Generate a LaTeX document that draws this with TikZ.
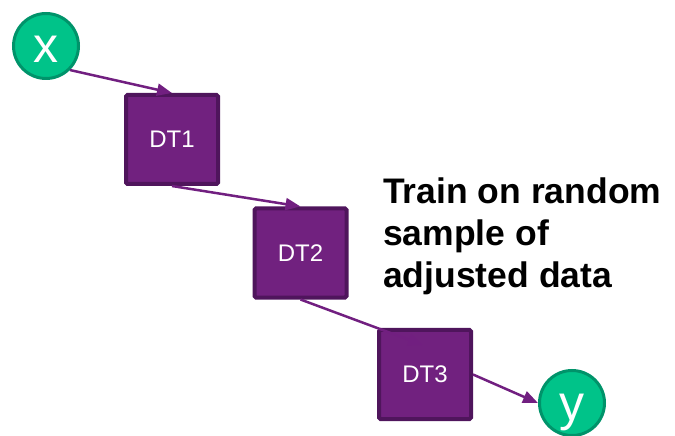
\documentclass[tikz,border=0pt]{standalone}
\usepackage{fontspec}
\setmainfont{Liberation Sans}
\usetikzlibrary{arrows.meta,calc}
\definecolor{leafgreen}{HTML}{00C389}
\definecolor{leafedge}{HTML}{00936A}
\definecolor{treefill}{HTML}{71217F}
\definecolor{treeedge}{HTML}{4F155C}
\definecolor{linkpurple}{HTML}{711F80}
\tikzset{
  endpoint/.style={circle, fill=leafgreen, draw=leafedge, line width=3bp,
    minimum size=65bp, inner sep=0pt, text=white,
    font=\fontsize{50bp}{50bp}\selectfont, text height=40bp, text depth=6bp},
  treebox/.style={rectangle, rounded corners=1.5bp, fill=treefill, draw=treeedge,
    line width=4bp, minimum width=92bp, minimum height=89bp, inner sep=0pt,
    text=white, font=\fontsize{24bp}{24bp}\selectfont},
  link/.style={draw=linkpurple, line width=2.5bp,
    -{Triangle[length=15bp,width=12bp]}},
  caption/.style={anchor=base west, align=left, inner sep=0pt,
    font=\fontsize{35.5bp}{42bp}\selectfont\bfseries}
}
\begin{document}
\begin{tikzpicture}[x=1bp, y=-1bp]
  \useasboundingbox (0,0) rectangle (675,436);

  % input, three boosted trees, output
  \node[endpoint] (in)  at (46,46)    {x};
  \node[treebox]  (dt1) at (172,139.5) {DT1};
  \node[treebox]  (dt2) at (300.5,253) {DT2};
  \node[treebox]  (dt3) at (425,374.5) {DT3};
  \node[endpoint] (out) at (572,403)  {y};

  % chain of connectors
  \draw[link] (in.-45) -- (dt1.north);
  \draw[link] (dt1.south) -- (dt2.north);
  \coordinate (dt3in) at ($(dt3.north)+(-2,17)$);
  \draw[link] (dt2.south) -- (dt3in);
  \draw[link] (dt3.east) -- (out.west);

  % explanatory note (base anchor sits on the last line)
  \node[caption] (note) at (383,288) {Train on random\\sample of\\adjusted data};
\end{tikzpicture}
\end{document}
